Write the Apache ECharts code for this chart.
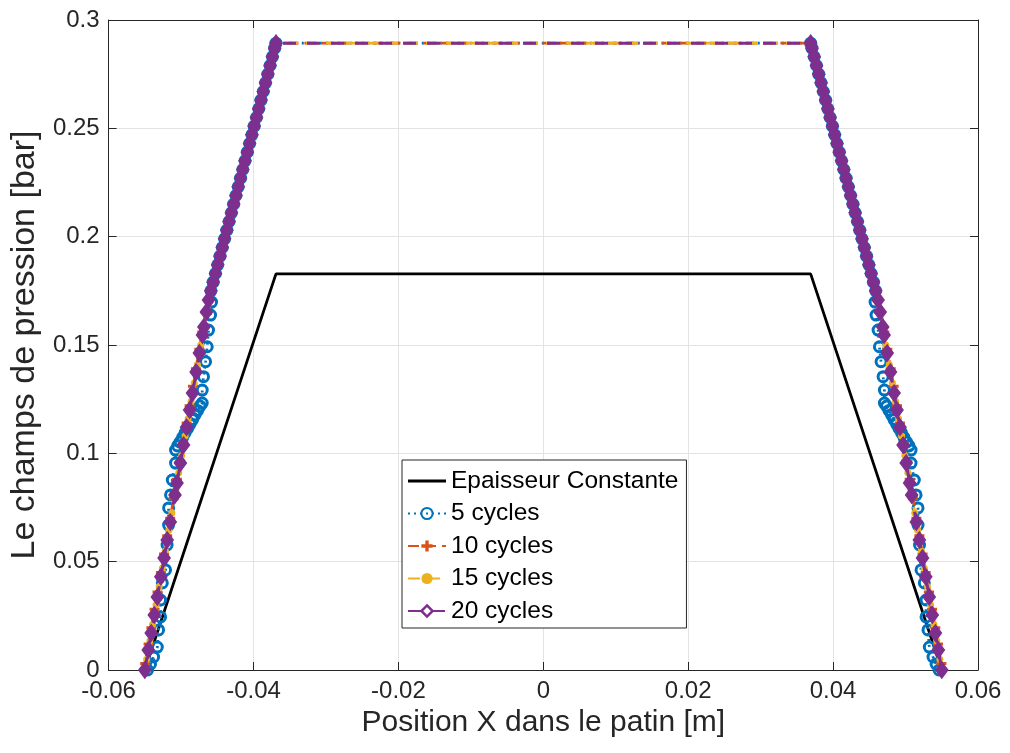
<!DOCTYPE html>
<html>
<head>
<meta charset="utf-8">
<script src="https://cdn.jsdelivr.net/npm/echarts@6/dist/echarts.min.js"></script>
<style>html,body{margin:0;padding:0;background:#fff;}#c{width:1010px;height:753px;}</style>
</head>
<body>
<div id="c"></div>
<script>
// ---------------- data ----------------
const seriesNames = ['Epaisseur Constante', '5 cycles', '10 cycles', '15 cycles', '20 cycles'];
const xTicks = [-0.06, -0.04, -0.02, 0, 0.02, 0.04, 0.06];
const yTicks = [0, 0.05, 0.1, 0.15, 0.2, 0.25, 0.3];

// constant thickness profile
const blackX = [-0.055, -0.0369, 0.0369, 0.055];
const blackY = [0, 0.1828, 0.1828, 0];

// upper (dense) part of the ramps, shared by the cycle curves
const rampUpY = [0.175, 0.179, 0.183, 0.187, 0.191, 0.195, 0.199, 0.203, 0.207, 0.211, 0.215, 0.219, 0.223, 0.227, 0.231, 0.235, 0.239, 0.243, 0.247, 0.251, 0.255, 0.259, 0.263, 0.267, 0.271, 0.275, 0.279, 0.283, 0.287, 0.2893];
const rampUpLeftX = [-0.04588, -0.04557, -0.04525, -0.04494, -0.04462, -0.04431, -0.04399, -0.04368, -0.04337, -0.04305, -0.04274, -0.04242, -0.04211, -0.04179, -0.04148, -0.04117, -0.04085, -0.04054, -0.04022, -0.03991, -0.03959, -0.03928, -0.03897, -0.03865, -0.03834, -0.03802, -0.03771, -0.03739, -0.03708, -0.03690];
const rampUpRightX = [0.04588, 0.04557, 0.04525, 0.04494, 0.04462, 0.04431, 0.04399, 0.04368, 0.04337, 0.04305, 0.04274, 0.04242, 0.04211, 0.04179, 0.04148, 0.04117, 0.04085, 0.04054, 0.04022, 0.03991, 0.03959, 0.03928, 0.03897, 0.03865, 0.03834, 0.03802, 0.03771, 0.03739, 0.03708, 0.03690];

// 20 cycles, lower part of ramps
const purpleLowY = [0, 0.0092, 0.0171, 0.0254, 0.0337, 0.0430, 0.0517, 0.0600, 0.0683, 0.0808, 0.0863, 0.0955, 0.1038, 0.1120, 0.1200, 0.1278, 0.1375, 0.1463, 0.1546, 0.1583, 0.1652, 0.1708];
const purpleLowLeftX = [-0.05500, -0.05453, -0.05412, -0.05369, -0.05327, -0.05279, -0.05234, -0.05191, -0.05149, -0.05084, -0.05056, -0.05009, -0.04966, -0.04924, -0.04882, -0.04842, -0.04792, -0.04747, -0.04704, -0.04685, -0.04650, -0.04621];
const purpleLowRightX = [0.05500, 0.05453, 0.05412, 0.05369, 0.05327, 0.05279, 0.05234, 0.05191, 0.05149, 0.05084, 0.05056, 0.05009, 0.04966, 0.04924, 0.04882, 0.04842, 0.04792, 0.04747, 0.04704, 0.04685, 0.04650, 0.04621];

// 15 cycles, lower part
const yellowLowY = [0.005, 0.0135, 0.021, 0.030, 0.0385, 0.047, 0.055, 0.0645, 0.0725, 0.0835, 0.091, 0.099, 0.108, 0.116, 0.124, 0.1325, 0.141, 0.150, 0.1585, 0.167];
const yellowLowLeftX = [-0.05474, -0.05431, -0.05392, -0.05346, -0.05302, -0.05258, -0.05217, -0.05168, -0.05127, -0.05070, -0.05032, -0.04991, -0.04944, -0.04903, -0.04862, -0.04818, -0.04774, -0.04728, -0.04684, -0.04641];
const yellowLowRightX = [0.05474, 0.05431, 0.05392, 0.05346, 0.05302, 0.05258, 0.05217, 0.05168, 0.05127, 0.05070, 0.05032, 0.04991, 0.04944, 0.04903, 0.04862, 0.04818, 0.04774, 0.04728, 0.04684, 0.04641];

// 10 cycles, lower part
const redLowY = [0.003, 0.012, 0.0195, 0.028, 0.036, 0.045, 0.0535, 0.062, 0.070, 0.079, 0.088, 0.0965, 0.105, 0.114, 0.122, 0.131, 0.139, 0.148, 0.156, 0.165];
const redLowLeftX = [-0.05495, -0.05448, -0.05410, -0.05366, -0.05325, -0.05278, -0.05235, -0.05191, -0.05150, -0.05103, -0.05057, -0.05013, -0.04970, -0.04923, -0.04882, -0.04836, -0.04795, -0.04748, -0.04707, -0.04661];
const redLowRightX = [0.05495, 0.05448, 0.05410, 0.05366, 0.05325, 0.05278, 0.05235, 0.05191, 0.05150, 0.05103, 0.05057, 0.05013, 0.04970, 0.04923, 0.04882, 0.04836, 0.04795, 0.04748, 0.04707, 0.04661];

// 5 cycles, lower part
const blueLowY = [0, 0.0028, 0.0060, 0.0106, 0.0185, 0.0245, 0.0323, 0.0402, 0.0462, 0.0577, 0.0669, 0.0748, 0.0808, 0.0877, 0.0955, 0.1015, 0.1034, 0.1052, 0.1073, 0.1094, 0.1115, 0.1135, 0.1156, 0.1177, 0.1198, 0.1218, 0.1232, 0.1292, 0.1354, 0.1423, 0.1492, 0.1569, 0.1638, 0.1698];
const blueLowLeftX = [-0.05462, -0.05421, -0.05379, -0.05328, -0.05310, -0.05283, -0.05283, -0.05259, -0.05214, -0.05193, -0.05172, -0.05172, -0.05145, -0.05121, -0.05076, -0.05076, -0.05048, -0.05014, -0.04979, -0.04945, -0.04910, -0.04876, -0.04841, -0.04807, -0.04772, -0.04738, -0.04708, -0.04708, -0.04690, -0.04662, -0.04639, -0.04621, -0.04593, -0.04579];
const blueLowRightX = [0.05462, 0.05421, 0.05379, 0.05328, 0.05310, 0.05283, 0.05283, 0.05259, 0.05214, 0.05193, 0.05172, 0.05172, 0.05145, 0.05121, 0.05076, 0.05076, 0.05048, 0.05014, 0.04979, 0.04945, 0.04910, 0.04876, 0.04841, 0.04807, 0.04772, 0.04738, 0.04708, 0.04708, 0.04690, 0.04662, 0.04639, 0.04621, 0.04593, 0.04579];

// ---------------- build ----------------
function pairs(xs, ys) { return xs.map(function (x, i) { return [x, ys[i]]; }); }
function profile(lowLeftX, lowRightX, lowY) {
  const left = pairs(lowLeftX, lowY).concat(pairs(rampUpLeftX, rampUpY));
  const right = pairs(rampUpRightX, rampUpY).reverse().concat(pairs(lowRightX, lowY).reverse());
  return left.concat(right);
}

const FONT = '"Liberation Sans", Arial, Helvetica, sans-serif';
const TXT = '#262626';
const C_BLUE = '#0072BD', C_RED = '#D95319', C_YEL = '#EDB120', C_PUR = '#7E2F8E';
const plusPath = 'path://M3.5,0 L6.5,0 L6.5,3.5 L10,3.5 L10,6.5 L6.5,6.5 L6.5,10 L3.5,10 L3.5,6.5 L0,6.5 L0,3.5 L3.5,3.5 Z';
const barIcon = 'path://M0,0 L38,0 L38,3 L0,3 Z';
const fmt = function (v) { return String(Math.round(v * 1000) / 1000); };

const chart = echarts.init(document.getElementById('c'), null, { renderer: 'canvas' });
chart.setOption({
  animation: false,
  backgroundColor: '#fff',
  textStyle: { fontFamily: FONT },
  grid: { left: 108, right: 32, top: 20, bottom: 83, containLabel: false },
  xAxis: [{
    type: 'value', min: xTicks[0], max: xTicks[xTicks.length - 1], interval: 0.02,
    name: 'Position X dans le patin [m]', nameLocation: 'middle', nameGap: 28,
    nameTextStyle: { fontSize: 30, color: TXT, fontFamily: FONT },
    axisLine: { show: true, onZero: false, lineStyle: { color: TXT, width: 1 } },
    axisTick: { show: true, inside: true, length: 8, lineStyle: { color: TXT } },
    axisLabel: { fontSize: 24, color: TXT, margin: 9, formatter: fmt, fontFamily: FONT },
    splitLine: { show: true, lineStyle: { color: '#e3e3e3', width: 1 } }
  }, {
    type: 'value', position: 'top', min: xTicks[0], max: xTicks[xTicks.length - 1], interval: 0.02,
    axisLine: { show: true, onZero: false, lineStyle: { color: TXT, width: 1 } },
    axisTick: { show: true, inside: true, length: 8, lineStyle: { color: TXT } },
    axisLabel: { show: false }, splitLine: { show: false }
  }],
  yAxis: [{
    type: 'value', min: yTicks[0], max: yTicks[yTicks.length - 1], interval: 0.05,
    name: 'Le champs de pression [bar]', nameLocation: 'middle', nameGap: 63, nameRotate: 90,
    nameTextStyle: { fontSize: 34, color: TXT, fontFamily: FONT },
    axisLine: { show: true, onZero: false, lineStyle: { color: TXT, width: 1 } },
    axisTick: { show: true, inside: true, length: 8, lineStyle: { color: TXT } },
    axisLabel: { fontSize: 24, color: TXT, margin: 9, formatter: fmt, fontFamily: FONT },
    splitLine: { show: true, lineStyle: { color: '#e3e3e3', width: 1 } }
  }, {
    type: 'value', position: 'right', min: yTicks[0], max: yTicks[yTicks.length - 1], interval: 0.05,
    axisLine: { show: true, onZero: false, lineStyle: { color: TXT, width: 1 } },
    axisTick: { show: true, inside: true, length: 8, lineStyle: { color: TXT } },
    axisLabel: { show: false }, splitLine: { show: false }
  }],
  legend: {
    orient: 'vertical', left: 402, top: 460,
    data: [{ name: seriesNames[0], icon: barIcon, itemStyle: { color: '#000' } },
           seriesNames[1], seriesNames[2], seriesNames[3],
           { name: seriesNames[4], itemStyle: { color: '#fff', borderColor: C_PUR, borderWidth: 2.5 } }],
    backgroundColor: '#fff', borderColor: TXT, borderWidth: 1,
    padding: [8, 8, 4, 5], itemGap: 6.5, itemWidth: 38, itemHeight: 14,
    textStyle: { fontSize: 24.5, color: '#000', fontFamily: FONT, lineHeight: 26 }
  },
  series: [{
    name: seriesNames[0], type: 'line', data: pairs(blackX, blackY),
    symbol: 'none', lineStyle: { color: '#000', width: 2.8 }, itemStyle: { color: '#000' }, z: 2
  }, {
    name: seriesNames[1], type: 'line', data: profile(blueLowLeftX, blueLowRightX, blueLowY),
    showAllSymbol: true, symbol: 'circle', symbolSize: 10,
    lineStyle: { color: C_BLUE, width: 2.8, type: [2, 4] },
    itemStyle: { color: 'rgba(0,0,0,0)', borderColor: C_BLUE, borderWidth: 3 }, z: 3
  }, {
    name: seriesNames[2], type: 'line', data: profile(redLowLeftX, redLowRightX, redLowY),
    showAllSymbol: true, symbol: plusPath, symbolSize: 10,
    lineStyle: { color: C_RED, width: 2.8, type: [11, 6] },
    itemStyle: { color: C_RED }, z: 4
  }, {
    name: seriesNames[3], type: 'line', data: profile(yellowLowLeftX, yellowLowRightX, yellowLowY),
    showAllSymbol: true, symbol: 'circle', symbolSize: 7,
    lineStyle: { color: C_YEL, width: 2.8, type: [12, 8] },
    itemStyle: { color: C_YEL }, z: 5
  }, {
    name: seriesNames[4], type: 'line', data: profile(purpleLowLeftX, purpleLowRightX, purpleLowY),
    showAllSymbol: true, symbol: 'diamond', symbolSize: [12, 16],
    lineStyle: { color: C_PUR, width: 3, type: [13, 11] },
    itemStyle: { color: C_PUR, borderColor: C_PUR, borderWidth: 1.5 }, z: 6
  }]
});
</script>
</body>
</html>
